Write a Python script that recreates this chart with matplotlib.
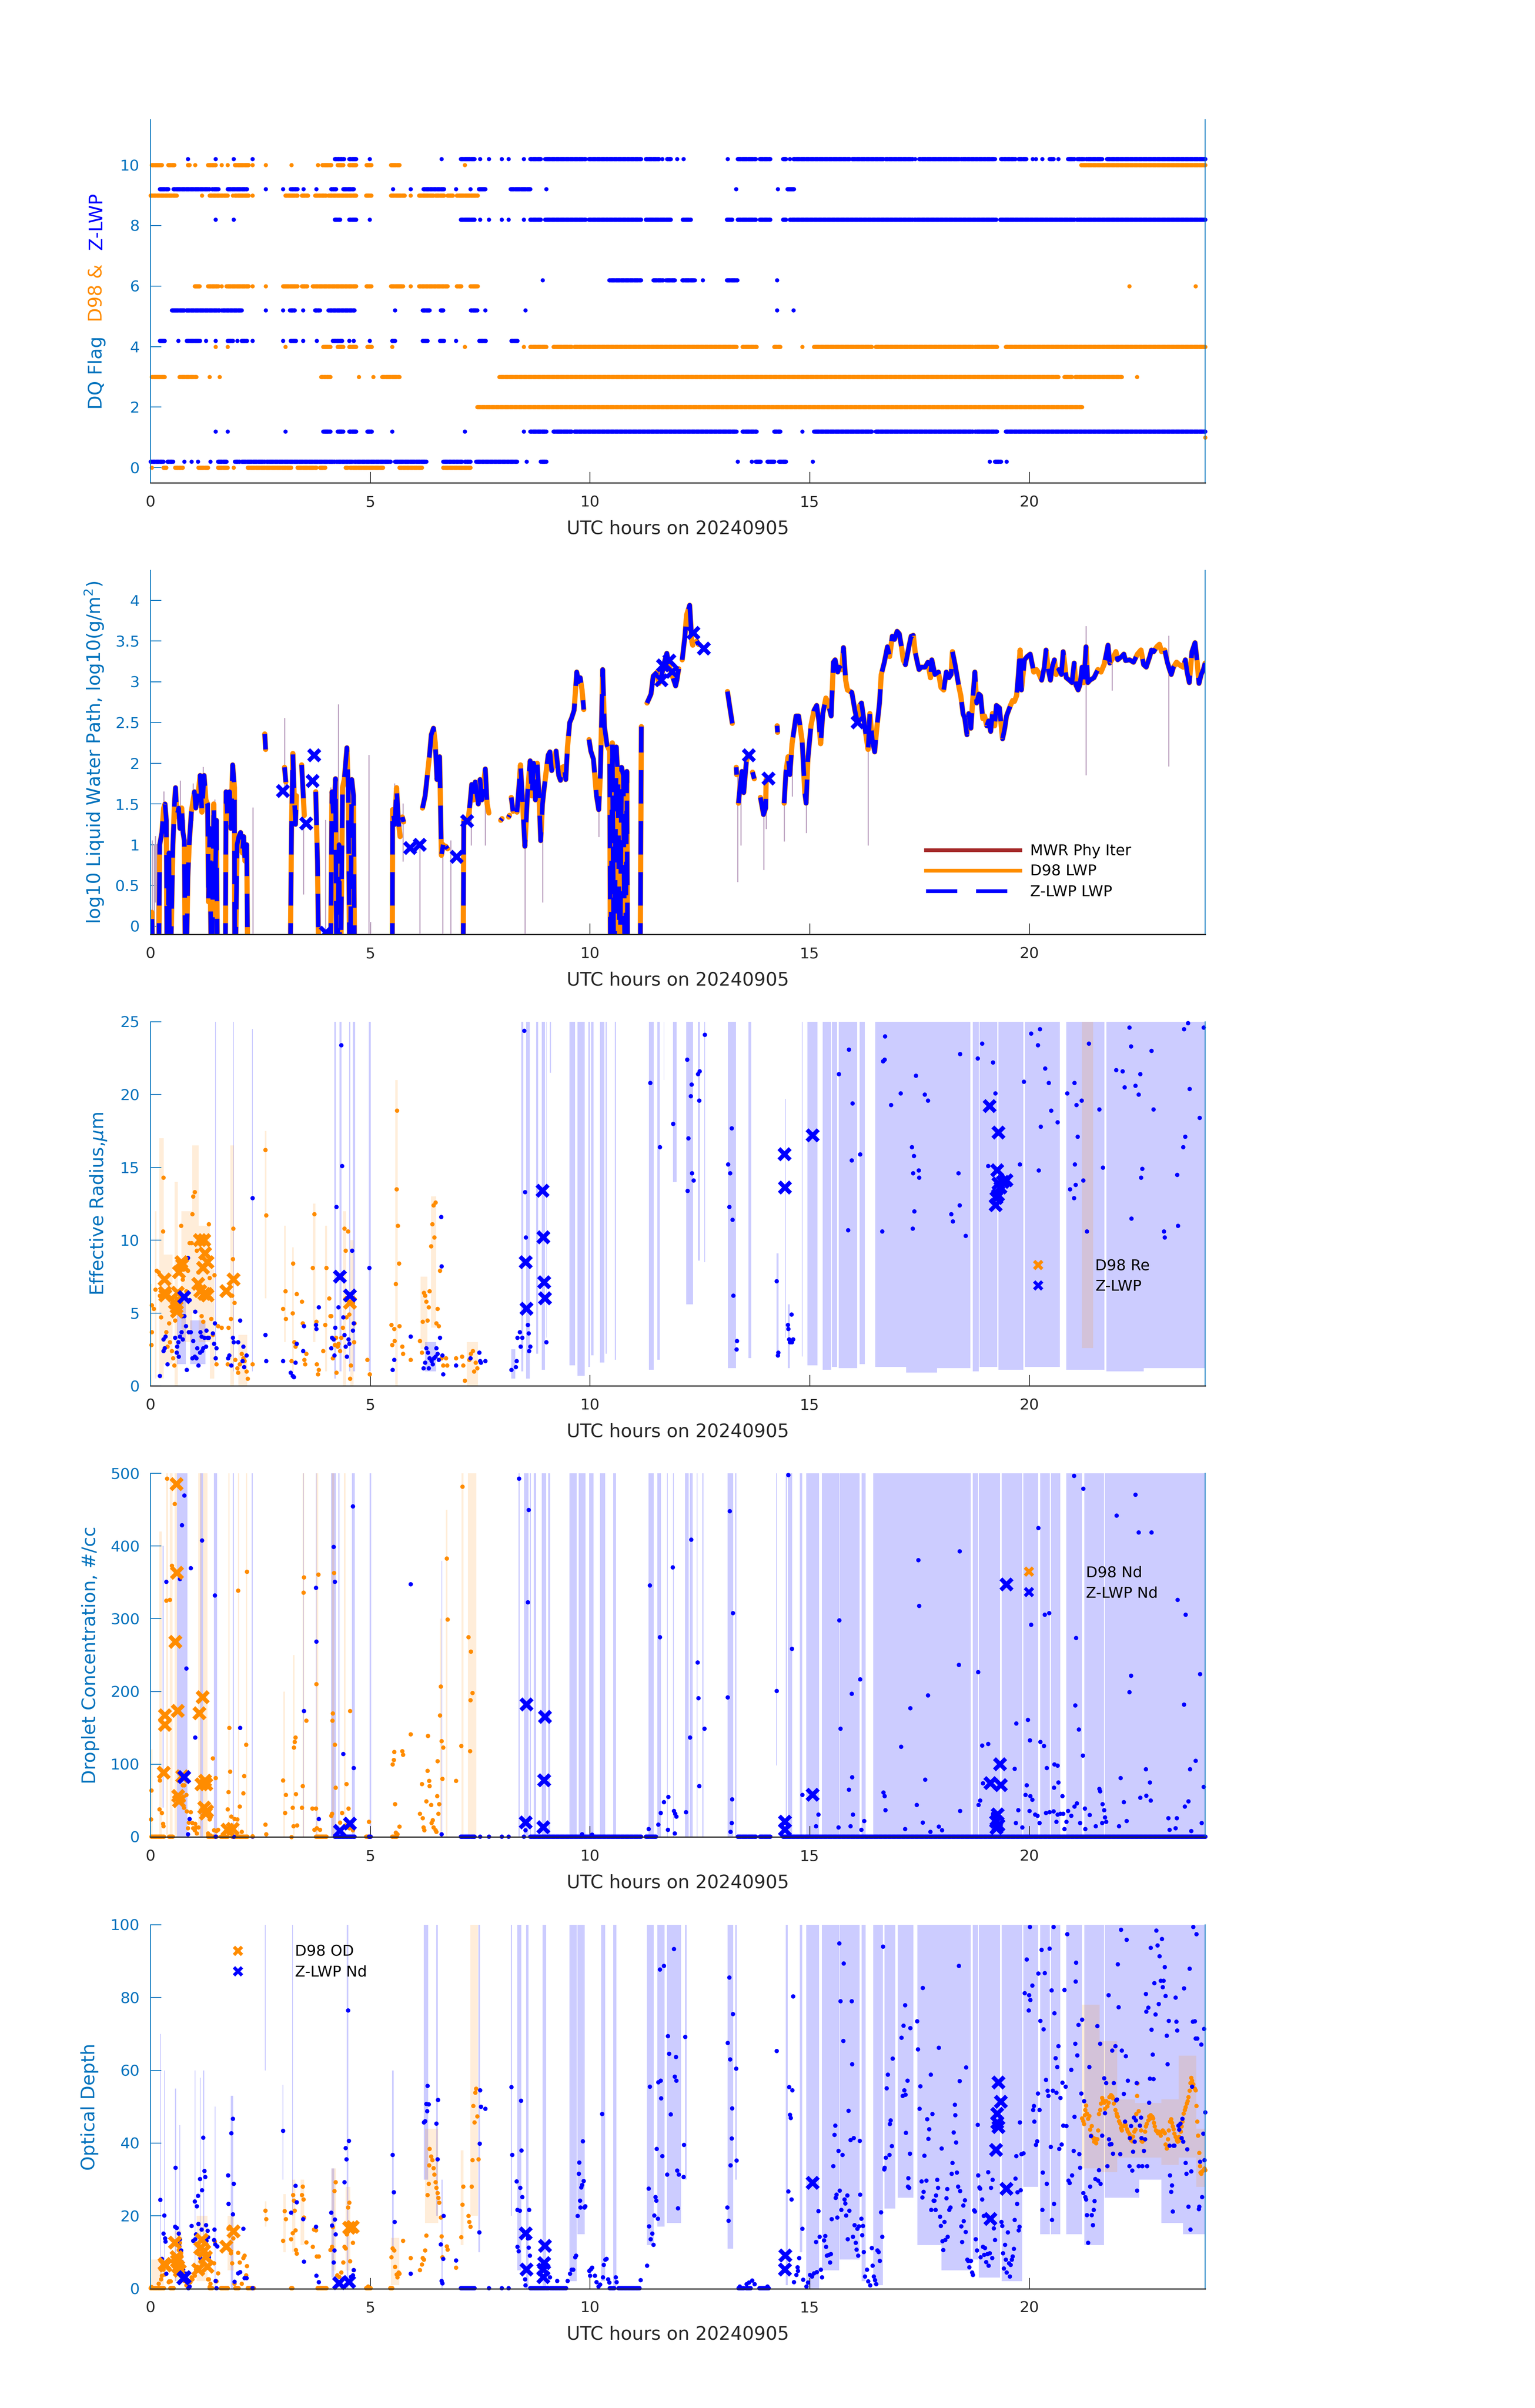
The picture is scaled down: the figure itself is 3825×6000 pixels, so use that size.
import numpy as np
import matplotlib
matplotlib.use("Agg")
import matplotlib.pyplot as plt
from matplotlib.lines import Line2D
from matplotlib.ticker import FuncFormatter

plt.rcParams['font.family'] = ['DejaVu Sans']
plt.rcParams['mathtext.fontset'] = 'dejavusans'

AX_BLUE = '#0072BD'
DARK = '#262626'
BLUE = '#0000FF'
ORANGE = '#FF8C00'
MWR_LEGEND = '#A52A2A'
MWR_TRACE = '#BBA0BF'
nan = np.nan

# --- Panel 1: DQ flags, runs of flagged samples (start hour, end hour) ---
zlwp_flag_10 = [(0.85, 0.85), (1.48, 1.48), (1.89, 1.89), (2.32, 2.32), (4.19, 4.4), (4.52, 4.68), (4.99, 4.99),
                (6.62, 6.62), (7.06, 7.37), (7.5, 7.5), (7.7, 7.7), (7.99, 7.99), (8.15, 8.15), (8.49, 8.49),
                (8.64, 8.88), (8.98, 9.9), (9.97, 11.16), (11.27, 11.57), (11.64, 11.64), (11.75, 11.84),
                (11.98, 11.98), (12.13, 12.13), (13.13, 13.13), (13.36, 13.77), (13.86, 14.1), (14.39, 14.46),
                (14.55, 14.55), (14.63, 15.91), (15.96, 16.68), (16.72, 17.34), (17.4, 17.4), (17.49, 18.4),
                (18.44, 19.21), (19.35, 19.68), (19.75, 19.93), (20.07, 20.07), (20.15, 20.15), (20.29, 20.29),
                (20.46, 20.55), (20.66, 20.66), (20.88, 21.02), (21.09, 21.24), (21.29, 21.65), (21.76, 24.0)]
zlwp_flag_9 = [(0.21, 0.4), (0.52, 1.34), (1.4, 1.54), (1.75, 2.19), (2.62, 2.62), (3.01, 3.01), (3.19, 3.34),
               (3.48, 3.48), (3.77, 3.77), (4.11, 4.22), (4.38, 4.62), (5.52, 5.52), (5.92, 5.92), (6.21, 6.68),
               (6.95, 6.95), (7.28, 7.28), (7.47, 7.62), (8.19, 8.64), (9.0, 9.0), (13.32, 13.32),
               (14.27, 14.27), (14.49, 14.64)]
zlwp_flag_8 = [(1.48, 1.48), (1.89, 1.89), (4.19, 4.31), (4.52, 4.68), (4.99, 4.99), (7.06, 7.37), (7.5, 7.5),
               (7.7, 7.7), (7.99, 7.99), (8.15, 8.15), (8.49, 8.49), (8.64, 8.88), (8.98, 9.9), (9.97, 11.16),
               (11.27, 11.84), (12.11, 12.29), (13.11, 13.23), (13.36, 13.77), (13.86, 14.1), (14.39, 14.46),
               (14.55, 17.34), (17.38, 18.4), (18.42, 19.24), (19.33, 21.02), (21.08, 24.0)]
zlwp_flag_6 = [(8.92, 8.92), (10.44, 11.16), (11.44, 11.66), (11.73, 11.93), (12.1, 12.38), (12.57, 12.57),
               (13.11, 13.35), (14.26, 14.26)]
zlwp_flag_5 = [(0.48, 0.77), (0.81, 1.57), (1.62, 2.07), (2.62, 2.62), (3.01, 3.01), (3.17, 3.28), (3.47, 3.47),
               (3.74, 3.85), (4.05, 4.64), (5.56, 5.56), (6.19, 6.35), (6.6, 6.66), (7.29, 7.43), (7.62, 7.62),
               (8.53, 8.53), (14.26, 14.26), (14.63, 14.63)]
zlwp_flag_4 = [(0.21, 0.32), (0.63, 0.63), (0.82, 1.12), (1.26, 1.26), (1.48, 1.48), (1.75, 1.87), (1.97, 1.97),
               (2.07, 2.19), (2.32, 2.32), (3.01, 3.01), (3.19, 3.31), (3.47, 3.47), (3.78, 3.78), (4.15, 4.36),
               (4.52, 4.52), (4.62, 4.62), (4.99, 4.99), (5.5, 5.56), (6.19, 6.3), (6.58, 6.68), (6.95, 6.95),
               (7.48, 7.63), (8.21, 8.35)]
zlwp_flag_1 = [(1.48, 1.48), (1.75, 1.75), (3.07, 3.07), (3.93, 4.09), (4.26, 4.38), (4.52, 4.68), (4.93, 5.03),
               (5.5, 5.5), (7.15, 7.15), (8.49, 8.49), (8.64, 9.0), (9.17, 9.58), (9.64, 13.33), (13.47, 13.79),
               (14.19, 14.33), (14.83, 14.83), (15.1, 16.41), (16.5, 18.71), (18.76, 19.26), (19.46, 24.0)]
zlwp_flag_0 = [(0.0, 0.29), (0.38, 0.51), (0.77, 0.77), (0.93, 0.93), (1.08, 1.08), (1.36, 1.36), (1.53, 1.73),
               (1.92, 2.03), (2.07, 2.6), (2.64, 4.19), (4.23, 4.6), (4.64, 5.46), (5.56, 6.27), (6.66, 7.09),
               (7.15, 7.28), (7.41, 8.34), (8.56, 8.56), (8.88, 9.0), (13.36, 13.36), (13.68, 13.68),
               (13.77, 13.88), (14.04, 14.19), (14.3, 14.46), (15.07, 15.07), (19.1, 19.1), (19.21, 19.35),
               (19.48, 19.48)]

d98_flag_10 = [(0.03, 0.26), (0.4, 0.54), (0.85, 0.89), (1.01, 1.01), (1.31, 1.48), (1.62, 1.62), (1.75, 1.75),
               (1.92, 2.23), (2.32, 2.32), (2.62, 2.62), (3.21, 3.21), (3.81, 3.81), (3.91, 4.11), (4.26, 4.38),
               (4.52, 4.68), (4.91, 5.02), (5.47, 5.66), (7.15, 7.15), (21.18, 24.0)]
d98_flag_9 = [(0.0, 0.59), (1.17, 1.17), (1.34, 1.75), (1.87, 1.87), (1.92, 2.23), (2.32, 2.32), (3.07, 3.34),
              (3.44, 3.58), (3.74, 3.99), (4.05, 4.68), (4.9, 5.02), (5.47, 5.78), (5.92, 5.92), (6.11, 6.44),
              (6.48, 6.68), (6.76, 6.88), (6.97, 7.44)]
d98_flag_6 = [(1.0, 1.11), (1.31, 1.54), (1.62, 1.62), (1.73, 2.23), (2.32, 2.32), (2.62, 2.62), (3.01, 3.34),
              (3.44, 3.56), (3.69, 4.68), (4.91, 5.02), (5.47, 5.74), (5.92, 5.92), (6.11, 6.76), (6.97, 7.07),
              (7.28, 7.44), (22.27, 22.27), (23.78, 23.78)]
d98_flag_4 = [(1.48, 1.48), (1.75, 1.75), (3.07, 3.07), (3.93, 4.09), (4.26, 4.38), (4.52, 4.68), (4.93, 5.03),
              (5.5, 5.5), (7.15, 7.15), (8.49, 8.49), (8.64, 9.0), (9.17, 9.58), (9.64, 13.33), (13.47, 13.79),
              (14.19, 14.33), (14.83, 14.83), (15.1, 16.41), (16.5, 18.71), (18.76, 19.26), (19.46, 24.0)]
d98_flag_3 = [(0.03, 0.32), (0.66, 1.04), (1.34, 1.34), (1.57, 1.57), (3.88, 4.09), (4.74, 4.74), (5.07, 5.07),
              (5.27, 5.66), (7.94, 20.66), (20.79, 20.97), (21.04, 22.1), (22.45, 22.45)]
d98_flag_2 = [(7.43, 21.2)]
d98_flag_1 = [(24.0, 24.0)]
d98_flag_0 = [(0.03, 0.03), (0.29, 0.36), (0.56, 0.73), (1.09, 1.31), (1.53, 1.75), (1.89, 1.89), (2.21, 3.2),
              (3.34, 3.77), (3.85, 3.97), (4.44, 4.48), (4.54, 5.29), (5.66, 6.17), (6.66, 7.28)]

# --- Panel 2: log10 LWP (hour, value); nan breaks the line, -1 = below axis ---
lwp_pts = [
    (0.00, -1), (0.03, 0.17), (0.07, -1), (nan, nan),
    (0.18, -1), (0.21, 1.0), (0.26, 1.15), (0.30, 1.45), (0.33, 1.5), (0.36, 1.3), (0.38, -1), (0.42, 0.9),
    (0.44, -1), (0.51, 1.0), (0.55, 1.55), (0.57, 1.7), (0.60, 1.35), (0.64, 1.45), (0.67, 1.2), (0.71, 1.45),
    (0.74, 1.15), (0.77, 1.05), (0.80, -1), (0.85, 0.6), (0.88, 1.0), (0.93, 1.4), (1.00, 1.65), (1.03, 1.45),
    (1.08, 1.6), (1.13, 1.85), (1.17, 1.4), (1.22, 1.85), (1.26, 1.55), (1.30, 1.5), (1.32, 0.3), (1.35, 1.2),
    (1.39, -1), (1.44, 1.5), (1.47, 0.4), (1.50, 1.3), (1.53, -1), (nan, nan),
    (1.70, -1), (1.72, 1.65), (1.76, 1.3), (1.80, 1.65), (1.83, 1.2), (1.87, 1.98), (1.91, 1.7), (1.92, -1),
    (1.97, 1.0), (2.01, 1.1), (2.05, 1.15), (2.09, 0.9), (2.12, 1.1), (2.15, 0.8), (2.19, 1.0), (2.22, -1),
    (nan, nan),
    (2.60, 2.36), (2.62, 2.17), (nan, nan),
    (3.05, 1.95), (3.08, 1.77), (nan, nan),
    (3.17, -1), (3.21, 1.2), (3.24, 2.12), (3.27, 1.6), (3.30, 1.25), (3.32, 1.6), (nan, nan),
    (3.44, 1.98), (3.50, 1.36), (nan, nan),
    (3.76, 1.65), (3.80, 0.8), (3.84, -1), (nan, nan),
    (4.09, -1), (4.13, 1.65), (4.17, 1.3), (4.21, 1.81), (4.24, -1), (4.29, 1.0), (4.32, -1), (4.37, 1.7),
    (4.41, 1.8), (4.47, 2.19), (4.50, 1.7), (4.54, -1), (4.58, 1.8), (4.62, 1.6), (4.65, -1), (nan, nan),
    (5.50, -1), (5.51, 1.43), (5.56, 1.25), (5.60, 1.7), (5.64, 1.3), (5.68, 1.1), (nan, nan),
    (5.73, 1.34), (5.76, 1.28), (nan, nan),
    (6.19, 1.45), (6.25, 1.6), (6.30, 1.85), (6.35, 2.1), (6.39, 2.35), (6.44, 2.43), (6.48, 2.25),
    (6.52, 1.8), (6.58, 2.08), (6.62, 0.87), (6.66, 1.0), (nan, nan),
    (6.72, 0.98), (6.76, 0.95), (nan, nan),
    (7.11, -1), (7.13, 1.3), (7.23, 1.3), (7.27, 1.5), (7.31, 1.74), (7.35, 1.55), (7.39, 1.77), (7.46, 1.5),
    (7.50, 1.8), (7.54, 1.55), (7.58, 1.75), (7.62, 1.93), (7.66, 1.5), (7.70, 1.39), (nan, nan),
    (7.97, 1.3), (8.00, 1.32), (nan, nan),
    (8.15, 1.34), (8.17, 1.36), (nan, nan),
    (8.21, 1.58), (8.25, 1.41), (nan, nan),
    (8.34, 1.4), (8.39, 1.75), (8.42, 1.98), (8.47, 1.5), (8.52, 0.98), (8.58, 1.63), (8.64, 2.03),
    (8.68, 1.6), (8.72, 2.0), (8.76, 1.55), (8.80, 2.0), (8.84, 1.63), (8.88, 1.05), (8.92, 1.5), (8.96, 1.7),
    (9.05, 2.1), (9.09, 2.14), (9.13, 1.91), (9.17, 1.98), (9.23, 2.15), (9.29, 1.85), (9.33, 1.79),
    (9.37, 1.95), (9.41, 1.96), (9.45, 1.8), (9.49, 2.2), (9.54, 2.5), (9.58, 2.55), (9.64, 2.65), (9.70, 3.12),
    (9.74, 3.0), (9.78, 3.05), (9.82, 2.9), (9.86, 2.66), (nan, nan),
    (9.98, 2.29), (10.02, 2.15), (10.08, 2.05), (10.15, 1.6), (10.20, 1.43), (10.24, 1.9), (10.29, 3.15),
    (10.33, 2.45), (10.39, 2.22), (10.45, 2.15), (10.47, -1), (10.51, 2.25), (10.55, -1), (10.60, 2.2),
    (10.64, 1.8), (10.68, -1), (10.72, 1.95), (10.76, 1.85), (10.80, -1), (10.84, 1.9), (10.86, -1), (nan, nan),
    (11.14, -1), (11.17, 2.45), (nan, nan),
    (11.30, 2.74), (11.35, 2.80), (11.39, 2.85), (11.44, 3.07), (11.53, 3.12), (11.57, 2.98), (11.62, 3.05),
    (11.70, 3.25), (11.75, 3.35), (11.80, 3.2), (11.89, 3.05), (11.95, 2.95), (11.98, 3.02), (12.02, 3.16),
    (nan, nan),
    (12.10, 3.27), (12.16, 3.55), (12.20, 3.82), (12.27, 3.94), (12.32, 3.49), (12.34, 3.45), (nan, nan),
    (12.43, 3.5), (12.47, 3.46), (nan, nan),
    (13.13, 2.88), (13.18, 2.7), (13.24, 2.49), (nan, nan),
    (13.33, 1.95), (13.34, 1.86), (nan, nan),
    (13.38, 1.51), (13.42, 1.73), (13.46, 1.9), (13.50, 1.64), (13.56, 2.02), (13.60, 2.1), (nan, nan),
    (13.70, 1.89), (13.74, 1.81), (nan, nan),
    (13.88, 1.58), (13.95, 1.37), (14.00, 1.45), (14.01, 1.8), (nan, nan),
    (14.26, 2.46), (14.27, 2.38), (nan, nan),
    (14.42, 1.51), (14.46, 1.89), (14.51, 2.08), (14.55, 1.86), (14.60, 2.24), (14.69, 2.58), (14.75, 2.58),
    (14.83, 2.27), (14.89, 1.64), (14.92, 1.51), (14.96, 2.05), (15.03, 2.46), (15.10, 2.65), (15.16, 2.71),
    (15.21, 2.52), (15.25, 2.24), (15.30, 2.61), (15.37, 2.8), (15.41, 2.76), (15.49, 2.58), (15.54, 3.24),
    (15.58, 3.27), (15.64, 3.12), (15.68, 3.18), (15.73, 3.15), (15.77, 3.42), (15.82, 3.02), (15.86, 2.9),
    (15.96, 2.87), (16.03, 2.65), (16.09, 2.5), (16.14, 2.71), (16.18, 2.74), (16.23, 2.55), (16.27, 2.39),
    (16.33, 2.17), (16.37, 2.61), (16.43, 2.27), (16.48, 2.14), (16.52, 2.39), (16.59, 2.74), (16.63, 3.09),
    (16.70, 3.24), (16.77, 3.43), (16.82, 3.31), (16.88, 3.56), (16.93, 3.52), (16.99, 3.62), (17.04, 3.59),
    (17.09, 3.43), (17.13, 3.27), (17.18, 3.21), (17.27, 3.46), (17.31, 3.56), (17.36, 3.57), (17.40, 3.37),
    (17.45, 3.24), (17.49, 3.15), (17.54, 3.18), (17.63, 3.18), (17.69, 3.24), (17.75, 3.05), (17.78, 3.27),
    (17.85, 3.09), (17.93, 3.12), (17.99, 2.93), (18.05, 2.9), (18.11, 3.12), (18.17, 3.05), (18.22, 3.09),
    (18.25, 3.37), (18.31, 3.21), (18.40, 2.93), (18.44, 2.83), (18.49, 2.61), (18.53, 2.55), (18.58, 2.35),
    (18.62, 2.61), (18.67, 2.43), (18.71, 2.77), (18.76, 3.12), (18.80, 2.74), (18.85, 2.85), (18.89, 2.83),
    (18.94, 2.55), (18.98, 2.58), (19.03, 2.46), (19.07, 2.52), (19.12, 2.39), (19.16, 2.61), (19.21, 2.46),
    (19.25, 2.71), (19.32, 2.68), (19.39, 2.3), (19.44, 2.43), (19.48, 2.58), (19.57, 2.71), (19.62, 2.77),
    (19.66, 2.76), (19.71, 2.83), (19.75, 3.09), (19.79, 3.39), (19.82, 2.9), (19.89, 3.27), (19.95, 3.31),
    (20.02, 3.34), (20.10, 3.12), (20.16, 3.15), (20.20, 3.12), (20.28, 3.02), (20.34, 3.18), (20.38, 3.39),
    (20.43, 3.15), (20.48, 3.02), (20.52, 3.18), (20.57, 3.27), (20.61, 3.09), (20.67, 3.15), (20.73, 3.09),
    (20.77, 3.37), (20.84, 3.05), (20.91, 3.02), (20.97, 2.99), (21.02, 3.23), (21.06, 2.96), (21.11, 2.9),
    (21.15, 2.96), (21.20, 3.18), (21.24, 2.99), (21.29, 3.43), (21.33, 2.99), (21.38, 3.02), (21.47, 3.05),
    (21.56, 3.15), (21.63, 3.12), (21.70, 3.21), (21.74, 3.31), (21.79, 3.45), (21.83, 3.23), (21.92, 3.31),
    (21.97, 3.37), (22.01, 3.27), (22.10, 3.31), (22.15, 3.34), (22.19, 3.26), (22.28, 3.27), (22.37, 3.24),
    (22.46, 3.34), (22.54, 3.39), (22.60, 3.21), (22.66, 3.18), (22.74, 3.31), (22.78, 3.39), (22.83, 3.37),
    (22.90, 3.43), (22.96, 3.46), (23.01, 3.37), (23.08, 3.39), (23.14, 3.24), (23.19, 3.15), (23.23, 3.09),
    (23.28, 3.18), (23.35, 3.24), (23.41, 3.21), (23.50, 3.18), (23.55, 3.27), (23.59, 3.12), (23.64, 2.99),
    (23.70, 3.37), (23.77, 3.48), (23.82, 3.24), (23.86, 2.98), (23.91, 3.09), (23.96, 3.15), (24.00, 3.23),
]
# isolated Z-LWP retrievals drawn as crosses
lwp_z_x = [(3.01, 1.66), (3.54, 1.26), (3.69, 1.78), (3.73, 2.1), (3.99, -0.08), (5.91, 0.96), (6.13, 1.0),
           (6.97, 0.85), (7.21, 1.29), (11.63, 3.02), (11.66, 3.2), (11.81, 3.26), (11.87, 3.12), (12.36, 3.6),
           (12.59, 3.41), (13.62, 2.1), (14.06, 1.81), (16.09, 2.5)]
# MWR physical iteration excursions (hour, low, high)
mwr_spikes = [(0.04, -0.2, 1.05), (0.08, -0.2, 1.0), (0.11, 0.3, 1.1), (0.14, -0.2, 1.0), (0.17, 0.5, 1.05),
              (0.30, 1.3, 1.65), (0.50, 0.0, 1.0), (0.68, 1.3, 1.78), (0.78, -0.2, 1.3), (0.97, 1.3, 1.75),
              (1.20, 1.5, 1.95), (1.32, -0.2, 1.5), (1.46, 0.3, 1.55), (2.33, -0.2, 1.45), (3.05, 1.7, 2.55),
              (3.48, 0.4, 1.98), (3.98, -0.2, 1.3), (4.10, 0.0, 1.7), (4.27, 1.0, 2.72), (4.97, -0.2, 2.1),
              (5.00, -0.2, 0.05), (5.55, 1.4, 1.75), (5.74, 0.8, 1.5), (6.13, -0.2, 1.0), (6.65, -0.2, 1.0),
              (6.83, -0.2, 1.05), (7.30, 1.0, 1.55), (7.62, 1.0, 1.9), (8.52, -0.2, 1.0), (8.92, 0.3, 1.2),
              (10.20, 1.1, 1.5), (13.36, 0.55, 1.9), (13.43, 1.0, 1.7), (13.95, 0.7, 1.5), (14.01, 1.2, 1.5),
              (14.42, 1.05, 1.5), (14.60, 1.6, 2.2), (14.92, 1.15, 1.5), (16.33, 1.0, 2.2), (21.29, 1.86, 3.68),
              (21.88, 2.9, 3.3), (23.17, 1.97, 3.56)]

# --- Panel 3: effective radius (um) ---
re_d98_pts = [
    (0.02, 2.8), (0.03, 3.7), (0.03, 5.55), (0.07, 5.29), (0.11, 6.6), (0.14, 7.9), (0.18, 7.8), (0.21, 6.2),
    (0.24, 4.7), (0.28, 10.6), (0.29, 14.3), (0.36, 3.7), (0.38, 2.7), (0.42, 4.3), (0.44, 3.0), (0.48, 2.4),
    (0.51, 1.9), (0.54, 1.4), (0.56, 4.5), (0.59, 6.0), (0.60, 5.1), (0.69, 11.0), (0.73, 7.3), (0.75, 8.0),
    (0.81, 6.5), (0.85, 7.9), (0.89, 9.8), (0.93, 9.8), (0.95, 11.8), (0.97, 13.0), (1.00, 13.3), (1.05, 9.3),
    (1.09, 7.8), (1.16, 4.8), (1.20, 4.4), (1.32, 11.1), (1.34, 7.4), (1.38, 4.6), (1.42, 3.5), (1.45, 7.6),
    (1.48, 1.9), (1.50, 1.5), (1.53, 4.1), (1.62, 4.0), (1.75, 1.5), (1.77, 4.0), (1.83, 4.6), (1.85, 6.2),
    (1.87, 8.7), (1.88, 10.8), (1.91, 5.7), (1.93, 1.8), (1.97, 1.2), (1.99, 0.9), (2.03, 1.5), (2.07, 2.2),
    (2.11, 1.9), (2.14, 1.7), (2.18, 1.0), (2.21, 0.5), (2.32, 1.5), (2.61, 16.2), (2.63, 11.7), (3.01, 5.3),
    (3.07, 6.5), (3.08, 4.6), (3.21, 1.7), (3.23, 5.0), (3.24, 8.4), (3.27, 3.0), (3.30, 2.7), (3.32, 6.3),
    (3.44, 5.8), (3.46, 4.3), (3.50, 1.8), (3.52, 1.5), (3.54, 2.2), (3.69, 8.1), (3.73, 11.8), (3.77, 4.4),
    (3.78, 1.5), (3.81, 0.8), (3.83, 1.1), (3.93, 2.4), (3.97, 4.2), (4.00, 8.1), (4.06, 6.0), (4.09, 4.8),
    (4.11, 4.8), (4.15, 1.9), (4.19, 2.8), (4.22, 3.3), (4.23, 0.9), (4.26, 2.7), (4.27, 2.9), (4.31, 2.4),
    (4.34, 3.3), (4.37, 4.0), (4.41, 10.8), (4.44, 9.3), (4.46, 4.7), (4.49, 10.6), (4.52, 4.9), (4.54, 0.5),
    (4.56, 1.4), (4.60, 5.7), (4.63, 3.0), (4.64, 4.3), (4.93, 1.8), (4.99, 0.8), (5.48, 4.2), (5.50, 2.8),
    (5.54, 3.9), (5.55, 3.1), (5.58, 7.0), (5.60, 13.5), (5.61, 18.9), (5.63, 11.0), (5.65, 8.4), (5.66, 4.1),
    (5.73, 2.7), (5.74, 2.2), (5.92, 1.8), (6.13, 3.1), (6.17, 2.3), (6.19, 4.4), (6.22, 6.4), (6.25, 6.2),
    (6.27, 5.8), (6.30, 4.5), (6.33, 5.4), (6.35, 6.5), (6.38, 9.6), (6.41, 11.1), (6.44, 12.4), (6.46, 10.2),
    (6.48, 12.6), (6.50, 4.3), (6.53, 5.3), (6.56, 4.1), (6.58, 7.9), (6.62, 1.9), (6.66, 1.4), (6.72, 1.9),
    (6.75, 1.4), (6.95, 1.9), (7.09, 2.0), (7.11, 1.4), (7.15, 0.35), (7.25, 1.8), (7.29, 2.2), (7.33, 2.4),
    (7.36, 1.0), (7.40, 1.6), (7.43, 1.2),
]
re_d98_x = [(0.32, 7.3), (0.33, 6.4), (0.34, 6.2), (0.56, 5.7), (0.59, 5.4), (0.60, 5.1), (0.62, 6.4),
            (0.65, 7.8), (0.70, 8.5), (0.72, 8.3), (1.09, 7.0), (1.12, 10.0), (1.13, 6.5), (1.20, 8.1),
            (1.22, 10.0), (1.22, 6.3), (1.24, 9.1), (1.27, 6.3), (1.30, 8.5), (1.30, 6.2), (1.73, 6.5),
            (1.89, 7.3), (4.54, 5.7)]
re_z_pts = [
    (0.21, 0.7), (0.29, 2.4), (0.32, 2.6), (0.34, 3.4), (0.29, 3.2), (0.38, 1.5), (0.56, 3.3), (0.59, 2.3),
    (0.60, 2.7), (0.63, 3.0), (0.64, 2.0), (0.67, 3.4), (0.70, 3.7), (0.72, 4.8), (0.73, 3.2), (0.77, 4.8),
    (0.80, 4.1), (0.82, 1.1), (0.85, 8.8), (0.87, 3.7), (0.89, 5.9), (0.91, 3.7), (0.95, 1.9), (0.97, 3.1),
    (1.00, 2.0), (1.01, 5.1), (1.04, 1.9), (1.06, 2.6), (1.09, 1.4), (1.12, 2.3), (1.13, 3.7), (1.16, 3.4),
    (1.17, 2.4), (1.20, 2.6), (1.22, 3.3), (1.26, 2.7), (1.27, 3.8), (1.30, 3.3), (1.32, 3.3), (1.42, 3.6),
    (1.44, 2.9), (1.46, 4.3), (1.48, 1.9), (1.50, 2.6), (1.76, 1.9), (1.79, 2.1), (1.84, 1.4), (1.87, 3.3),
    (1.89, 3.0), (1.99, 3.0), (2.04, 4.5), (2.09, 1.7), (2.11, 2.7), (2.13, 1.3), (2.18, 2.1), (2.32, 12.9),
    (2.61, 3.5), (2.63, 1.7), (3.01, 1.7), (3.19, 0.9), (3.23, 0.7), (3.26, 0.6), (3.30, 1.6), (3.32, 2.9),
    (3.47, 2.4), (3.49, 4.1), (3.76, 4.2), (3.77, 3.9), (3.83, 5.4), (4.11, 2.6), (4.13, 3.3), (4.16, 3.2),
    (4.18, 2.1), (4.20, 4.0), (4.23, 12.3), (4.27, 5.4), (4.34, 23.4), (4.36, 15.1), (4.38, 4.7), (4.41, 3.5),
    (4.44, 2.7), (4.47, 2.0), (4.50, 3.2), (4.52, 2.9), (4.58, 9.3), (4.60, 3.8), (4.62, 4.3), (4.98, 8.1),
    (5.51, 1.1), (5.54, 1.8), (5.92, 3.4), (6.21, 1.2), (6.25, 1.6), (6.27, 2.6), (6.31, 2.3), (6.33, 1.2),
    (6.35, 1.9), (6.39, 1.7), (6.42, 1.5), (6.45, 1.9), (6.48, 2.0), (6.50, 2.6), (6.53, 2.2), (6.56, 1.8),
    (6.58, 3.3), (6.61, 11.6), (6.62, 8.2), (6.64, 2.1), (6.66, 0.8), (6.95, 1.4), (7.28, 1.9), (7.48, 2.3),
    (7.50, 1.7), (7.52, 1.6), (7.62, 1.7), (8.21, 1.1), (8.31, 1.3), (8.33, 1.7), (8.35, 3.3), (8.40, 3.7),
    (8.42, 2.7), (8.46, 3.3), (8.50, 24.4), (8.52, 13.3), (8.54, 10.2), (8.58, 4.2), (8.60, 3.6), (8.61, 2.4),
    (8.64, 2.7), (9.00, 3.0),
    (11.37, 20.8), (11.59, 16.4), (11.89, 18.0), (12.21, 22.4), (12.24, 17.0), (12.22, 13.4), (12.29, 19.9),
    (12.31, 20.7), (12.32, 14.6), (12.36, 14.1), (12.46, 21.4), (12.49, 21.6), (12.48, 19.6), (12.61, 24.1),
    (13.14, 15.2), (13.19, 14.6), (13.22, 17.7), (13.17, 12.3), (13.24, 11.4), (13.26, 6.2), (13.34, 3.1),
    (13.33, 2.5), (14.25, 7.2), (14.28, 2.3), (14.27, 2.1), (14.50, 4.2), (14.51, 3.9), (14.58, 4.9),
    (14.53, 3.2), (14.55, 3.0), (14.59, 3.0), (14.62, 3.2),
    (15.66, 21.4), (15.89, 23.1), (15.87, 10.7), (15.95, 15.5), (15.97, 19.4), (16.15, 15.9), (16.65, 10.6),
    (16.67, 22.3), (16.70, 22.4), (16.71, 24.0), (16.85, 19.3), (17.07, 20.1), (17.32, 16.4), (17.37, 15.8),
    (17.35, 14.6), (17.48, 14.8), (17.49, 14.3), (17.42, 21.3), (17.62, 20.0), (17.69, 19.6), (17.38, 12.0),
    (17.34, 10.8), (18.22, 11.8), (18.26, 11.3), (18.38, 14.6), (18.41, 12.4), (18.42, 22.8), (18.55, 10.3),
    (18.82, 22.5), (18.92, 23.5), (19.06, 15.1), (19.17, 22.2), (19.22, 20.1), (19.78, 15.2), (19.87, 20.9),
    (20.04, 24.2), (20.19, 23.4), (20.21, 14.8), (20.24, 24.5), (20.26, 17.8), (20.36, 21.8), (20.44, 20.8),
    (20.49, 18.9), (20.64, 18.1), (20.86, 20.1), (20.92, 13.5), (21.01, 12.9), (21.02, 20.8), (21.03, 15.2),
    (21.05, 13.8), (21.07, 19.3), (21.10, 17.1), (21.19, 19.6), (21.22, 14.1), (21.31, 10.6), (21.35, 23.5),
    (21.59, 19.0), (21.67, 15.0), (21.97, 21.7), (22.12, 21.6), (22.16, 20.5), (22.27, 24.6), (22.31, 23.3),
    (22.32, 11.5), (22.41, 20.6), (22.48, 20.0), (22.52, 21.4), (22.54, 14.3), (22.57, 14.9), (22.78, 23.0),
    (22.82, 19.0), (23.06, 10.6), (23.08, 10.2), (23.36, 14.5), (23.38, 11.0), (23.50, 16.4), (23.52, 24.5),
    (23.54, 17.1), (23.61, 24.9), (23.64, 20.4), (23.87, 18.4), (23.96, 24.6),
]
re_z_x = [(0.77, 6.1), (4.31, 7.5), (4.54, 6.2), (8.54, 8.5), (8.56, 5.3), (8.92, 13.4), (8.94, 10.2),
          (8.96, 7.1), (8.98, 6.0), (14.43, 15.9), (14.44, 13.6), (15.07, 17.2), (19.10, 19.2), (19.30, 17.4),
          (19.27, 14.8), (19.30, 13.9), (19.48, 14.1), (19.40, 14.0), (19.34, 13.6), (19.29, 13.1),
          (19.25, 12.9), (19.23, 12.4)]
# uncertainty bands (start hour, end hour, low, high)
re_band_d98 = [(0.0, 0.04, 0.0, 7.0), (0.1, 0.14, 0.5, 12.0), (0.2, 0.3, 0.5, 17.0), (0.3, 0.5, 1.5, 9.0),
               (0.55, 0.62, 0.0, 14.0), (0.7, 0.95, 3.0, 12.0), (0.95, 1.1, 5.0, 16.5), (1.1, 1.35, 3.0, 11.0),
               (1.35, 1.45, 0.5, 8.0), (1.82, 1.9, 0.0, 16.5), (2.0, 2.2, 0.0, 3.5), (2.6, 2.64, 6.0, 17.5),
               (3.04, 3.08, 3.0, 11.0), (3.22, 3.26, 1.0, 9.5), (3.7, 3.75, 3.0, 12.5), (3.97, 4.02, 1.0, 11.0),
               (4.38, 4.45, 0.0, 12.0), (4.55, 4.62, 0.0, 10.0), (5.57, 5.63, 0.0, 21.0), (6.15, 6.3, 2.5, 7.5),
               (6.38, 6.5, 4.0, 13.0), (7.2, 7.45, 0.0, 3.0), (21.2, 21.45, 2.6, 25.0)]
re_band_z = [(0.6, 0.8, 1.5, 6.0), (0.9, 1.25, 1.5, 4.5), (1.47, 1.49, 1.5, 25), (1.88, 1.9, 1.0, 25),
             (2.31, 2.33, 1.0, 24.5), (4.18, 4.22, 0.5, 25), (4.3, 4.35, 1.0, 25), (4.52, 4.55, 1.0, 25),
             (4.6, 4.66, 1.0, 25), (4.97, 5.01, 1.0, 25), (6.25, 6.5, 1.0, 3.0), (8.21, 8.3, 0.5, 2.5),
             (8.44, 8.48, 1.0, 25), (8.55, 8.63, 0.5, 25), (8.78, 8.82, 2.2, 25), (8.9, 8.98, 1.1, 25),
             (9.0, 9.01, 3.3, 25), (9.09, 9.11, 21.5, 25), (9.53, 9.66, 1.4, 25), (9.72, 9.88, 0.7, 25),
             (9.96, 10.0, 1.3, 25), (10.03, 10.08, 2.1, 25), (10.23, 10.33, 1.6, 25), (10.36, 10.38, 2.2, 25),
             (10.57, 10.59, 1.8, 25), (11.34, 11.45, 1.1, 25), (11.53, 11.59, 1.8, 25), (11.68, 11.69, 21, 25),
             (11.89, 11.97, 14, 25), (12.19, 12.35, 5.6, 25), (12.46, 12.5, 8.6, 25), (12.6, 12.62, 8.5, 25),
             (13.14, 13.32, 1.2, 25), (13.61, 13.67, 1.9, 25), (14.25, 14.29, 2.3, 9.1), (14.44, 14.46, 3.3, 19.7),
             (14.5, 14.55, 1.2, 5.6), (14.82, 14.84, 2.0, 25), (14.95, 15.18, 1.4, 25), (15.3, 15.49, 1.1, 25),
             (15.51, 15.63, 1.3, 25), (15.66, 16.08, 1.2, 25), (16.14, 16.26, 1.5, 25), (16.49, 17.2, 1.3, 25),
             (17.2, 17.9, 0.9, 25), (17.9, 18.66, 1.2, 25), (18.71, 18.85, 1.0, 25), (18.87, 19.27, 1.3, 25),
             (19.3, 19.86, 1.1, 25), (19.9, 20.69, 1.3, 25), (20.84, 21.71, 1.1, 25), (21.75, 22.6, 1.0, 25),
             (22.6, 23.99, 1.2, 25)]

# --- Panel 4: droplet concentration (#/cc) ---
nd_d98_pts = [
    (0.37, 493), (0.36, 325), (0.44, 326), (0.48, 373), (0.55, 458), (0.02, 64), (0.01, 24), (0.21, 78),
    (0.20, 38), (0.26, 33), (0.28, 18), (0.29, 15), (0.69, 84), (0.73, 71), (0.75, 50), (0.76, 40), (0.77, 71),
    (0.81, 58), (0.82, 35), (0.85, 12), (0.87, 20), (0.91, 34), (0.95, 19), (0.97, 12), (1.00, 9), (1.01, 18),
    (1.03, 13), (1.05, 5), (1.09, 13), (1.31, 5), (1.34, 24), (1.36, 2), (1.42, 108), (1.44, 9), (1.48, 81),
    (1.50, 8), (1.53, 10), (1.75, 38), (1.77, 62), (1.79, 150), (1.81, 90), (1.84, 28), (1.91, 25), (1.97, 24),
    (1.99, 339), (2.03, 42), (2.07, 7), (2.11, 60), (2.13, 84), (2.17, 127), (2.19, 365), (2.32, 1), (2.61, 17),
    (2.63, 4), (3.01, 78), (3.06, 33), (3.08, 58), (3.21, 0), (3.23, 40), (3.25, 15), (3.26, 123), (3.28, 131),
    (3.30, 137), (3.31, 59), (3.33, 16), (3.44, 40), (3.46, 70), (3.48, 336), (3.49, 357), (3.54, 160),
    (3.68, 39), (3.73, 10), (3.76, 39), (3.77, 210), (3.78, 12), (3.82, 361), (3.85, 10), (4.11, 29),
    (4.13, 32), (4.14, 160), (4.15, 170), (4.17, 363), (4.19, 127), (4.21, 68), (4.31, 20), (4.36, 33),
    (4.44, 16), (4.46, 73), (4.50, 39), (4.52, 12), (4.54, 173), (4.60, 9), (4.97, 21), (5.51, 100),
    (5.53, 106), (5.54, 117), (5.56, 45), (5.58, 6), (5.62, 4), (5.66, 14), (5.73, 118), (5.74, 113),
    (5.92, 141), (6.13, 32), (6.17, 73), (6.19, 26), (6.21, 13), (6.23, 9), (6.27, 49), (6.30, 91), (6.31, 139),
    (6.34, 77), (6.35, 70), (6.38, 44), (6.39, 19), (6.42, 23), (6.44, 13), (6.48, 9), (6.50, 7), (6.52, 56),
    (6.53, 104), (6.55, 32), (6.57, 45), (6.58, 167), (6.60, 207), (6.62, 132), (6.64, 80), (6.66, 123),
    (6.74, 383), (6.76, 299), (6.95, 77), (7.07, 125), (7.10, 482), (7.23, 275), (7.27, 118), (7.28, 188),
    (7.29, 255), (7.32, 198),
]
nd_d98_x = [(0.59, 485), (0.60, 363), (0.57, 268), (0.62, 173), (0.33, 167), (0.33, 154), (0.30, 88),
            (0.63, 56), (0.65, 49), (0.72, 83), (1.11, 170), (1.19, 192), (1.16, 72), (1.24, 77), (1.27, 72),
            (1.22, 40), (1.26, 32), (1.29, 35), (1.75, 10), (1.87, 11)]
nd_z_pts = [
    (0.36, 351), (0.67, 355), (0.71, 429), (0.77, 470), (0.81, 232), (0.91, 370), (0.89, 25), (0.85, 4),
    (1.01, 137), (1.17, 408), (1.46, 332), (2.04, 150), (3.49, 173), (3.76, 343), (3.77, 269), (3.83, 25),
    (4.16, 399), (4.19, 351), (4.38, 114), (4.60, 455), (4.62, 95), (5.92, 348), (6.62, 4), (8.38, 493),
    (8.60, 450), (8.58, 323), (8.53, 9), (9.82, 4), (10.05, 3),
    (11.36, 346), (11.59, 275), (11.88, 371), (12.30, 409), (12.45, 240), (12.47, 191), (12.27, 137),
    (12.60, 149), (12.48, 70), (13.18, 448), (13.25, 308), (13.13, 192), (13.23, 52), (13.22, 19), (13.20, 7),
    (11.33, 11), (11.55, 17), (11.61, 33), (11.68, 48), (11.78, 55), (11.91, 36), (11.94, 32), (11.96, 28),
    (12.18, 34), (11.77, 10), (11.93, 5), (14.25, 201), (14.51, 498), (14.59, 259), (14.83, 58), (15.14, 15),
    (15.20, 31), (15.67, 298), (15.70, 149), (15.95, 197), (15.96, 82), (15.89, 65), (15.98, 31), (16.15, 217),
    (16.17, 10), (16.24, 22), (15.93, 15), (15.65, 13), (16.68, 61), (16.70, 56), (16.72, 37), (17.08, 124),
    (17.17, 11), (17.29, 177), (17.47, 381), (17.49, 318), (17.43, 44), (17.57, 20), (17.63, 79), (17.69, 195),
    (17.74, 7), (17.94, 14), (18.01, 9), (18.39, 237), (18.41, 393), (18.42, 36), (18.83, 227), (18.88, 50),
    (18.84, 44), (18.92, 126), (19.06, 128), (18.94, 74), (19.17, 32), (19.66, 94), (19.70, 156), (19.69, 19),
    (19.74, 37), (19.96, 161), (20.01, 133), (19.94, 71), (19.91, 58), (20.02, 56), (20.06, 51), (20.00, 36),
    (19.84, 13), (20.04, 292), (20.20, 425), (20.25, 131), (20.33, 125), (20.35, 306), (20.45, 308),
    (20.39, 95), (20.13, 31), (20.18, 29), (20.23, 19), (20.37, 33), (20.46, 34), (20.55, 35), (20.61, 21),
    (20.57, 100), (20.64, 98), (20.66, 75), (20.56, 68), (20.64, 31), (20.70, 32), (20.75, 56), (20.77, 32),
    (20.79, 11), (20.84, 21), (20.88, 36), (20.95, 29), (21.02, 42), (21.08, 46), (21.01, 497), (21.06, 274),
    (21.04, 181), (21.12, 148), (21.21, 112), (21.22, 479), (21.15, 19), (21.26, 39), (21.27, 11), (21.37, 30),
    (21.51, 15), (21.59, 66), (21.61, 63), (21.66, 45), (21.70, 37), (21.72, 27), (21.74, 21), (21.65, 19),
    (21.98, 442), (22.07, 81), (22.15, 48), (22.21, 22), (22.27, 199), (22.31, 222), (22.41, 471),
    (22.48, 419), (22.78, 419), (22.65, 93), (22.66, 57), (22.74, 75), (22.52, 54), (22.76, 50), (22.04, 15),
    (23.16, 26), (23.35, 26), (23.19, 10), (23.32, 12), (23.37, 326), (23.55, 306), (23.52, 182), (23.65, 93),
    (23.78, 105), (23.53, 42), (23.62, 49), (23.88, 224), (23.96, 69), (23.92, 19), (23.68, 8),
]
nd_z_x = [(0.77, 82), (4.31, 8), (4.54, 18), (8.56, 182), (8.98, 165), (8.96, 78), (8.54, 20), (8.94, 13),
          (14.44, 21), (14.44, 10), (15.07, 58), (19.48, 347), (19.33, 100), (19.11, 74), (19.35, 71),
          (19.28, 31), (19.24, 21), (19.30, 16), (19.25, 12)]
# runs of near-zero retrievals (start hour, end hour)
nd_z_zero = [(1.48, 1.48), (1.89, 1.89), (2.32, 2.32), (4.19, 4.64), (4.97, 5.0), (7.06, 7.37), (7.5, 7.5),
             (7.7, 7.7), (7.99, 7.99), (8.15, 8.15), (8.49, 8.49), (8.64, 11.16), (11.27, 11.5), (13.36, 13.77),
             (13.86, 14.1), (14.39, 24.0)]
nd_d98_zero = [(0.02, 0.3), (0.42, 0.5), (1.31, 1.5), (1.6, 1.75), (1.85, 2.2), (3.76, 4.0), (4.9, 5.0),
               (5.5, 5.6), (21.2, 24.0)]
nd_band_d98 = [(0.0, 0.05, 0, 120), (0.2, 0.26, 0, 420), (0.36, 0.4, 0, 500), (0.44, 0.5, 0, 500),
               (0.55, 0.6, 0, 500), (1.09, 1.16, 0, 500), (1.2, 1.3, 0, 500), (1.77, 1.8, 0, 500),
               (1.99, 2.02, 0, 500), (2.17, 2.2, 0, 500), (3.02, 3.06, 0, 200), (3.24, 3.28, 0, 250),
               (3.46, 3.5, 0, 500), (3.77, 3.82, 0, 500), (4.13, 4.18, 0, 500), (4.4, 4.44, 0, 500),
               (6.58, 6.62, 0, 300), (6.72, 6.76, 0, 450), (7.08, 7.12, 0, 500), (7.22, 7.42, 0, 500)]
nd_band_z = [(0.27, 0.3, 40, 400), (0.6, 0.84, 0, 500), (1.13, 1.2, 0, 500), (1.44, 1.52, 0, 500),
             (1.87, 1.9, 0, 500), (2.3, 2.33, 0, 500), (3.47, 3.49, 0, 500), (3.76, 3.78, 0, 500),
             (4.11, 4.22, 0, 500), (4.27, 4.3, 0, 500), (4.58, 4.65, 0, 500), (4.99, 5.02, 0, 500),
             (6.62, 6.64, 0, 380), (8.37, 8.4, 0, 500), (8.5, 8.6, 0, 500), (8.63, 8.66, 0, 500),
             (8.72, 8.78, 0, 500), (8.9, 9.0, 0, 500), (9.05, 9.1, 0, 500), (9.53, 9.7, 0, 500),
             (9.74, 9.9, 0, 500), (9.98, 10.08, 0, 500), (10.23, 10.35, 0, 500), (10.53, 10.59, 0, 500),
             (11.33, 11.45, 0, 500), (11.53, 11.62, 0, 500), (11.75, 11.77, 0, 500), (11.89, 11.91, 0, 500),
             (12.16, 12.25, 0, 500), (12.27, 12.34, 0, 500), (12.43, 12.45, 0, 500), (12.56, 12.58, 0, 500),
             (13.13, 13.26, 0, 500), (13.31, 13.33, 0, 500), (14.24, 14.26, 98, 500), (14.46, 14.48, 0, 500),
             (14.5, 14.6, 0, 500), (14.78, 14.83, 0, 500), (14.92, 15.21, 0, 500), (15.28, 15.67, 0, 500),
             (15.68, 16.14, 0, 500), (16.18, 16.27, 0, 500), (16.45, 18.67, 0, 500), (18.71, 18.83, 0, 500),
             (18.85, 19.33, 0, 500), (19.37, 19.84, 0, 500), (19.86, 20.2, 0, 500), (20.25, 20.47, 0, 500),
             (20.49, 20.7, 0, 500), (20.84, 21.2, 0, 500), (21.25, 21.7, 0, 500), (21.72, 24.0, 0, 500)]

# --- Panel 5: optical depth ---
od_d98_pts = [
    (0.02, 0.5), (0.07, 0.2), (0.13, 0.2), (0.21, 0.2), (0.18, 1.4), (0.24, 2.6), (0.26, 3.6), (0.29, 5.3),
    (0.32, 3.9), (0.38, 7.7), (0.41, 1.8), (0.42, 2.0), (0.46, 2.0), (0.48, 0.2), (0.52, 0.2), (0.54, 6.0),
    (0.57, 12.2), (0.60, 7.2), (0.64, 10.7), (0.67, 12.6), (0.69, 9.1), (0.71, 6.8), (0.77, 2.2), (0.81, 1.0),
    (0.85, 0.4), (0.87, 2.2), (0.90, 1.8), (0.93, 3.1), (0.95, 2.6), (1.00, 3.6), (1.03, 5.3), (1.06, 6.0),
    (1.09, 9.5), (1.13, 7.4), (1.16, 6.4), (1.22, 7.0), (1.27, 8.5), (1.31, 2.6), (1.32, 2.6), (1.34, 0.5),
    (1.36, 1.4), (1.39, 0.2), (1.44, 7.0), (1.46, 13.0), (1.48, 2.2), (1.50, 2.0), (1.53, 4.3), (1.62, 0.2),
    (1.75, 0.2), (1.77, 16.5), (1.81, 16.9), (1.83, 9.8), (1.85, 7.0), (1.88, 13.8), (1.91, 1.4), (1.93, 0.2),
    (1.99, 9.9), (2.03, 7.2), (2.07, 1.4), (2.11, 8.5), (2.14, 9.1), (2.17, 3.7), (2.19, 6.2), (2.21, 0.2),
    (2.61, 21.5), (2.63, 19.2), (3.01, 13.2), (3.05, 21.4), (3.08, 19.2), (3.20, 13.6), (3.21, 0.2),
    (3.23, 15.3), (3.24, 25.8), (3.26, 24.2), (3.28, 21.5), (3.30, 16.1), (3.31, 10.7), (3.32, 9.7),
    (3.44, 25.8), (3.46, 28.1), (3.48, 24.5), (3.49, 19.6), (3.54, 12.8), (3.69, 11.5), (3.72, 16.3),
    (3.76, 16.1), (3.78, 8.9), (3.83, 8.9), (4.09, 10.7), (4.13, 11.5), (4.15, 16.9), (4.18, 26.9),
    (4.21, 29.3), (4.25, 3.7), (4.29, 3.3), (4.34, 4.5), (4.38, 7.2), (4.41, 11.5), (4.44, 11.1), (4.47, 14.9),
    (4.49, 22.4), (4.52, 23.7), (4.54, 7.6), (4.58, 16.9), (4.60, 12.6), (4.62, 5.1), (4.93, 0.2), (4.95, 0.6),
    (5.48, 8.7), (5.51, 11.1), (5.54, 10.5), (5.56, 6.0), (5.60, 3.9), (5.62, 3.1), (5.64, 4.5), (5.66, 4.1),
    (5.74, 13.2), (5.92, 8.4), (6.13, 5.1), (6.17, 6.7), (6.19, 8.4), (6.22, 8.0), (6.25, 10.5), (6.27, 14.6),
    (6.30, 25.8), (6.33, 28.9), (6.34, 33.9), (6.35, 38.4), (6.38, 36.4), (6.41, 35.4), (6.44, 33.1),
    (6.46, 31.4), (6.48, 29.3), (6.50, 27.7), (6.53, 26.3), (6.55, 25.0), (6.57, 23.7), (6.60, 19.6),
    (6.62, 14.4), (6.64, 8.7), (6.74, 11.6), (6.76, 10.8), (6.95, 5.8), (7.07, 14.2), (7.10, 23.1),
    (7.11, 28.1), (7.23, 20.0), (7.25, 18.4), (7.28, 17.0), (7.31, 28.1), (7.32, 35.4), (7.34, 50.3),
    (7.37, 45.7), (7.39, 53.9), (7.41, 55.0), (7.43, 47.4), (7.46, 35.6),
    (21.20, 46.8), (21.22, 46.1), (21.24, 45.3), (21.26, 47.7), (21.27, 49.2), (21.29, 50.4), (21.31, 48.2),
    (21.33, 46.7), (21.36, 47.5), (21.38, 43.7), (21.41, 42.1), (21.42, 44.7), (21.45, 41.4), (21.47, 40.4),
    (21.50, 41.2), (21.52, 40.0), (21.54, 41.1), (21.56, 43.5), (21.58, 48.1), (21.61, 49.2), (21.63, 50.9),
    (21.65, 52.5), (21.67, 51.8), (21.70, 51.1), (21.72, 49.5), (21.74, 51.6), (21.77, 50.1), (21.80, 51.1),
    (21.82, 52.7), (21.85, 53.2), (21.88, 52.9), (21.90, 52.3), (21.92, 50.9), (21.95, 49.2), (21.98, 48.2),
    (21.99, 47.5), (22.01, 47.3), (22.04, 46.1), (22.06, 45.4), (22.08, 44.2), (22.10, 43.5), (22.12, 44.6),
    (22.15, 44.7), (22.17, 45.3), (22.19, 44.9), (22.22, 43.9), (22.24, 43.2), (22.27, 42.5), (22.28, 41.4),
    (22.31, 40.9), (22.34, 40.5), (22.36, 41.9), (22.38, 43.2), (22.41, 43.7), (22.43, 48.1), (22.45, 53.0),
    (22.46, 56.4), (22.48, 48.8), (22.51, 44.9), (22.54, 43.5), (22.55, 40.7), (22.57, 40.4), (22.60, 40.9),
    (22.63, 43.2), (22.65, 44.6), (22.67, 45.3), (22.70, 46.3), (22.72, 47.4), (22.74, 46.7), (22.76, 47.7),
    (22.79, 47.3), (22.81, 46.8), (22.83, 45.6), (22.85, 44.6), (22.88, 43.5), (22.90, 43.2), (22.92, 42.8),
    (22.94, 43.2), (22.96, 42.8), (22.99, 42.1), (23.01, 43.2), (23.03, 43.5), (23.05, 43.2), (23.08, 42.8),
    (23.10, 39.7), (23.12, 38.6), (23.15, 41.1), (23.17, 43.5), (23.20, 46.0), (23.22, 46.6), (23.24, 45.6),
    (23.26, 44.6), (23.28, 43.9), (23.30, 42.6), (23.32, 41.8), (23.35, 40.9), (23.37, 40.4), (23.40, 40.7),
    (23.41, 41.8), (23.44, 43.2), (23.46, 44.6), (23.48, 46.0), (23.51, 48.2), (23.53, 49.2), (23.55, 49.9),
    (23.58, 50.9), (23.60, 51.6), (23.62, 52.7), (23.64, 54.4), (23.66, 56.5), (23.68, 58.0), (23.70, 57.2),
    (23.73, 56.2), (23.76, 55.0), (23.78, 54.6), (23.80, 50.2), (23.82, 46.0), (23.84, 42.1), (23.86, 37.4),
    (23.88, 33.7), (23.89, 31.9), (23.91, 31.6), (23.93, 32.3), (23.96, 32.6), (23.98, 33.0), (24.00, 32.6),
]
od_d98_x = [(0.32, 6.8), (0.34, 6.4), (0.56, 12.6), (0.59, 8.7), (0.60, 7.6), (0.63, 6.0), (0.67, 4.9),
            (1.09, 5.3), (1.13, 11.1), (1.17, 13.4), (1.22, 10.3), (1.26, 8.7), (1.30, 6.0), (1.73, 11.5),
            (1.89, 15.7), (4.52, 16.7), (4.60, 16.9)]
od_z_pts = [
    (0.22, 24.4), (0.26, 8.2), (0.29, 15.2), (0.31, 20.1), (0.33, 13.9), (0.34, 13.0), (0.36, 4.1), (0.38, 7.7),
    (0.57, 33.3), (0.56, 17.0), (0.59, 16.7), (0.60, 12.6), (0.62, 13.4), (0.64, 15.2), (0.65, 11.8),
    (0.67, 13.6), (0.69, 10.5), (0.70, 7.4), (0.73, 6.2), (0.74, 5.3), (0.77, 4.3), (0.78, 2.8), (0.81, 4.1),
    (0.83, 1.8), (0.86, 0.2), (0.89, 0.6), (0.93, 17.3), (0.97, 13.2), (1.00, 24.0), (1.01, 13.6), (1.03, 14.9),
    (1.05, 22.7), (1.08, 25.5), (1.09, 17.8), (1.12, 30.2), (1.13, 8.5), (1.16, 16.3), (1.17, 27.1),
    (1.20, 41.5), (1.22, 32.4), (1.24, 30.7), (1.26, 17.5), (1.27, 13.2), (1.30, 15.9), (1.31, 14.2),
    (1.32, 8.7), (1.44, 13.4), (1.45, 16.3), (1.47, 12.2), (1.48, 2.2), (1.50, 0.2), (1.52, 11.6), (1.76, 31.2),
    (1.77, 23.3), (1.84, 42.8), (1.87, 46.7), (1.89, 28.9), (1.87, 20.5), (1.91, 1.9), (1.99, 4.3), (2.04, 4.6),
    (2.11, 16.5), (2.14, 2.9), (2.18, 2.9), (2.32, 0.2), (3.01, 43.4), (3.20, 20.9), (3.30, 28.3), (3.32, 23.8),
    (3.47, 19.2), (3.49, 7.4), (3.76, 17.0), (3.77, 3.6), (3.83, 1.8), (4.11, 20.9), (4.13, 17.4), (4.16, 7.2),
    (4.18, 10.5), (4.19, 19.0), (4.21, 14.9), (4.41, 29.3), (4.44, 38.7), (4.46, 35.6), (4.49, 76.5),
    (4.51, 40.7), (4.56, 3.3), (4.60, 3.7), (4.62, 5.1), (5.51, 36.8), (5.53, 26.5), (5.55, 18.4), (5.92, 4.1),
    (6.22, 45.7), (6.25, 46.1), (6.27, 50.8), (6.29, 48.8), (6.30, 55.8), (6.33, 50.7), (6.50, 45.4),
    (6.53, 35.6), (6.54, 51.9), (6.60, 12.2), (6.62, 2.2), (6.64, 1.5), (6.66, 8.2), (6.67, 20.0), (6.95, 7.8),
    (7.48, 15.5), (7.49, 39.9), (7.50, 54.6), (7.52, 50.0), (7.62, 49.5), (7.70, 0.2), (7.99, 0.2),
    (8.15, 0.2), (8.21, 55.4), (8.23, 36.8), (8.33, 29.5), (8.35, 21.7), (8.40, 21.5), (8.41, 27.7),
    (8.43, 51.7), (8.44, 38.0), (8.46, 25.2), (8.35, 11.5), (8.37, 10.3), (8.52, 2.6), (8.53, 1.0),
    (8.58, 13.8), (8.60, 11.3), (8.61, 21.7), (8.63, 9.1), (9.09, 3.1), (9.25, 2.2), (9.49, 2.2), (9.54, 4.1),
    (9.58, 5.3), (9.62, 5.3), (9.66, 8.7), (9.68, 9.1), (9.72, 20.0), (9.74, 31.6), (9.75, 34.7), (9.77, 24.2),
    (9.78, 22.3), (9.80, 27.9), (9.82, 28.5), (9.84, 40.5), (9.85, 29.6), (9.87, 22.3), (9.89, 22.7),
    (9.98, 4.9), (10.00, 3.6), (10.02, 5.4), (10.05, 5.8), (10.11, 3.6), (10.15, 1.8), (10.19, 0.6),
    (10.23, 1.2), (10.27, 48.1), (10.29, 3.1), (10.31, 6.6), (10.35, 8.0), (10.37, 8.2), (10.41, 2.6),
    (10.44, 1.7), (10.58, 3.1), (10.60, 1.8), (11.15, 2.4),
    (11.30, 6.3), (11.33, 27.5), (11.34, 17.2), (11.36, 55.5), (11.38, 13.6), (11.42, 15.2), (11.44, 12.1),
    (11.46, 20.1), (11.49, 25.2), (11.51, 24.2), (11.52, 38.5), (11.54, 19.3), (11.55, 56.8), (11.59, 87.7),
    (11.61, 57.2), (11.62, 52.3), (11.64, 36.5), (11.68, 88.7), (11.75, 31.4), (11.77, 69.4), (11.80, 64.6),
    (11.84, 47.9), (11.91, 93.4), (11.93, 58.3), (11.95, 63.7), (11.96, 57.2), (11.98, 32.5), (12.00, 22.1),
    (12.02, 31.4), (12.13, 30.7), (12.14, 39.6), (12.16, 69.2), (13.13, 67.6), (13.15, 18.7), (13.12, 22.4),
    (13.17, 85.6), (13.19, 63.1), (13.20, 33.9), (13.22, 41.3), (13.23, 49.6), (13.25, 75.5), (13.32, 60.5),
    (13.33, 35.3), (13.41, 0.6), (13.56, 1.3), (13.62, 1.7), (13.69, 2.3), (13.74, 1.3), (14.04, 0.6),
    (14.25, 65.4), (14.51, 26.8), (14.53, 55.4), (14.55, 47.8), (14.57, 46.9), (14.58, 24.5), (14.60, 54.5),
    (14.62, 80.4), (14.64, 1.8), (14.69, 3.8), (14.72, 5.9), (14.73, 4.9), (14.76, 8.4), (14.83, 16.5),
    (14.85, 2.5), (14.92, 0.6), (14.96, 1.7), (15.00, 3.8), (15.05, 3.4), (15.10, 4.3), (15.14, 12.9),
    (15.16, 4.6), (15.20, 21.4), (15.22, 14.3), (15.25, 5.3), (15.28, 3.2), (15.32, 13.3), (15.35, 14.5),
    (15.37, 11.5), (15.39, 9.1), (15.43, 9.3), (15.46, 7.2), (15.48, 9.6), (15.50, 19.1), (15.53, 33.7),
    (15.56, 42.3), (15.58, 44.8), (15.59, 25.0), (15.61, 25.9), (15.63, 19.6), (15.65, 37.9), (15.67, 94.9),
    (15.68, 27.0), (15.70, 79.0), (15.72, 21.7), (15.74, 36.8), (15.76, 68.1), (15.77, 89.4), (15.79, 24.5),
    (15.81, 23.5), (15.83, 20.1), (15.85, 25.7), (15.86, 13.6), (15.88, 48.9), (15.90, 21.5), (15.93, 40.9),
    (15.95, 79.0), (15.96, 61.7), (15.98, 14.3), (16.00, 41.4), (16.02, 17.5), (16.05, 12.6), (16.06, 10.8),
    (16.08, 16.5), (16.10, 9.1), (16.12, 17.2), (16.14, 40.7), (16.15, 25.9), (16.17, 19.3), (16.19, 14.7),
    (16.21, 17.3), (16.23, 10.1), (16.26, 3.4), (16.30, 5.3), (16.33, 2.0), (16.37, 1.0), (16.41, 11.2),
    (16.43, 6.3), (16.46, 3.4), (16.48, 2.4), (16.51, 1.3), (16.54, 10.5), (16.57, 10.1), (16.59, 7.7),
    (16.62, 21.0), (16.65, 14.3), (16.67, 94.0), (16.69, 32.8), (16.70, 33.3), (16.73, 36.0), (16.75, 55.1),
    (16.78, 58.9), (16.81, 36.8), (16.82, 45.3), (16.84, 46.3), (16.87, 39.2), (16.89, 63.3),
    (17.09, 69.0), (17.11, 53.0), (17.13, 72.3), (17.15, 54.6), (17.17, 77.9), (17.18, 53.3), (17.19, 42.9),
    (17.22, 57.2), (17.24, 30.4), (17.26, 27.7), (17.28, 37.1), (17.29, 71.7), (17.23, 28.1),
    (17.44, 73.5), (17.46, 65.8), (17.50, 49.5), (17.52, 55.7), (17.54, 29.5), (17.56, 25.1), (17.57, 82.7),
    (17.59, 26.7), (17.61, 36.6), (17.65, 29.7), (17.67, 46.6), (17.70, 41.2), (17.72, 43.9), (17.75, 58.8),
    (17.76, 21.7), (17.79, 48.0), (17.82, 24.2), (17.84, 24.2), (17.86, 21.7), (17.87, 25.6), (17.90, 30.0),
    (17.92, 27.8), (17.94, 66.3), (17.96, 19.8), (17.98, 17.3), (18.00, 38.6), (18.02, 13.1), (18.04, 10.7),
    (18.06, 18.4), (18.08, 13.4), (18.11, 24.9), (18.13, 27.4), (18.14, 14.3), (18.17, 21.7), (18.20, 22.4),
    (18.23, 31.6), (18.25, 34.6), (18.27, 43.0), (18.30, 50.6), (18.31, 47.7), (18.33, 40.2), (18.35, 31.9),
    (18.37, 28.1), (18.39, 88.7), (18.41, 57.1), (18.42, 26.9), (18.45, 17.2), (18.47, 12.9), (18.49, 22.9),
    (18.50, 18.6), (18.53, 24.3), (18.55, 15.6), (18.56, 60.8), (18.58, 8.0), (18.60, 7.7), (18.63, 5.9),
    (18.67, 7.7), (18.69, 4.5), (18.71, 3.8), (18.74, 21.6), (18.76, 21.2), (18.78, 13.6), (18.80, 10.5),
    (18.82, 45.1), (18.83, 31.2), (18.86, 27.9), (18.88, 27.5), (18.89, 8.7), (18.92, 24.5), (18.94, 11.5),
    (18.96, 20.0), (18.97, 9.3), (18.99, 11.2), (19.01, 7.3), (19.04, 9.6), (19.06, 32.1), (19.07, 6.3),
    (19.10, 9.8), (19.12, 27.7), (19.15, 8.5), (19.16, 30.0), (19.19, 16.6), (19.21, 13.4), (19.36, 18.4),
    (19.38, 17.3), (19.40, 9.8), (19.42, 5.6), (19.44, 12.1), (19.46, 8.0), (19.48, 4.5), (19.51, 15.5),
    (19.53, 7.0), (19.55, 3.4), (19.57, 6.6), (19.60, 8.0), (19.62, 8.9), (19.64, 11.0), (19.66, 18.9),
    (19.68, 30.3), (19.70, 36.5), (19.72, 23.3), (19.73, 26.5), (19.75, 16.1), (19.77, 17.0), (19.78, 45.7),
    (19.80, 27.1), (19.82, 37.0), (19.86, 37.2), (19.89, 81.2), (19.94, 90.5), (19.99, 80.7), (20.01, 99.5),
    (19.98, 76.5), (20.02, 79.4), (20.06, 83.3), (20.08, 49.2), (20.10, 50.2), (20.11, 46.0), (20.15, 39.5),
    (20.17, 40.5), (20.19, 53.7), (20.20, 86.6), (20.23, 49.2), (20.25, 73.6), (20.27, 93.2), (20.29, 21.7),
    (20.30, 31.9), (20.32, 71.3), (20.35, 86.8), (20.37, 57.4), (20.39, 28.8), (20.41, 54.4), (20.43, 53.0),
    (20.46, 93.5), (20.48, 39.0), (20.50, 82.0), (20.51, 18.9), (20.53, 54.4), (20.55, 99.5), (20.56, 23.3),
    (20.57, 75.7), (20.59, 63.4), (20.61, 53.9), (20.63, 61.0), (20.66, 66.7), (20.68, 38.5), (20.70, 52.5),
    (20.73, 39.7), (20.75, 56.7), (20.77, 44.8), (20.79, 82.1), (20.82, 55.5), (20.84, 44.7), (20.86, 97.5),
    (20.89, 29.7), (20.91, 29.1), (20.95, 60.2), (20.97, 31.2), (21.00, 37.9), (21.02, 47.3), (21.04, 67.4),
    (21.05, 84.4), (21.06, 89.6), (21.09, 64.1), (21.11, 72.5), (21.13, 37.0), (21.15, 33.3), (21.18, 53.7),
    (21.20, 74.0), (21.22, 26.3), (21.24, 51.6), (21.27, 25.2), (21.29, 24.5), (21.31, 20.3), (21.33, 12.6),
    (21.36, 61.0), (21.38, 28.1), (21.40, 42.0), (21.42, 20.3), (21.44, 17.5), (21.46, 21.7), (21.48, 24.1),
    (21.50, 30.2), (21.54, 72.2), (21.56, 29.7), (21.58, 32.6), (21.61, 67.4), (21.62, 28.8), (21.65, 42.1),
    (21.70, 57.9), (21.72, 48.3), (21.74, 56.5), (21.77, 33.7), (21.80, 80.7), (21.81, 41.1), (21.83, 39.7),
    (21.86, 39.8), (21.88, 65.5), (21.90, 37.1), (21.92, 56.5), (21.95, 66.7), (21.97, 51.8), (21.99, 52.0),
    (22.01, 89.2), (22.03, 77.4), (22.06, 37.0), (22.08, 98.7), (22.10, 65.5), (22.15, 53.6), (22.17, 45.9),
    (22.19, 63.9), (22.21, 95.9), (22.24, 57.2), (22.27, 33.7), (22.28, 41.4), (22.31, 44.7), (22.34, 32.5),
    (22.36, 37.7), (22.37, 47.0), (22.39, 40.4), (22.42, 46.3), (22.44, 56.5), (22.45, 27.0), (22.48, 33.7),
    (22.51, 44.9), (22.54, 47.0), (22.55, 41.4), (22.57, 33.7), (22.60, 37.9), (22.63, 41.1), (22.65, 81.0),
    (22.66, 76.2), (22.68, 33.7), (22.70, 77.3), (22.72, 51.1), (22.74, 57.8), (22.76, 93.7), (22.78, 71.2),
    (22.80, 64.4), (22.82, 57.6), (22.84, 84.0), (22.87, 75.4), (22.89, 98.4), (22.91, 94.4), (22.94, 78.3),
    (22.96, 91.4), (22.99, 84.7), (23.01, 96.1), (23.03, 82.9), (23.05, 84.7), (23.08, 88.4), (23.10, 80.5),
    (23.12, 69.6), (23.14, 61.7), (23.17, 73.6), (23.19, 39.3), (23.20, 31.2), (23.22, 26.7), (23.24, 28.4),
    (23.26, 21.2), (23.28, 39.3), (23.30, 39.3), (23.32, 80.0), (23.34, 73.4), (23.36, 71.0), (23.39, 44.9),
    (23.41, 43.7), (23.43, 45.4), (23.46, 41.4), (23.48, 46.7), (23.50, 40.4), (23.52, 82.6), (23.55, 34.6),
    (23.57, 31.6), (23.59, 38.3), (23.62, 22.6), (23.64, 88.0), (23.66, 16.3), (23.68, 32.3), (23.70, 55.5),
    (23.72, 73.4), (23.73, 99.5), (23.76, 73.5), (23.78, 68.8), (23.80, 97.5), (23.82, 68.8), (23.85, 21.9),
    (23.86, 22.6), (23.88, 34.9), (23.91, 67.1), (23.93, 25.2), (23.95, 42.6), (23.97, 71.4), (23.98, 35.4),
    (24.00, 48.5),
]
od_z_x = [(0.75, 2.8), (0.78, 3.1), (4.29, 1.5), (4.52, 1.8), (8.54, 15.2), (8.56, 5.3), (8.98, 11.8),
          (8.96, 7.0), (8.94, 5.3), (8.94, 3.1), (14.45, 9.1), (14.44, 5.2), (15.07, 29.1), (19.30, 56.7),
          (19.35, 51.3), (19.27, 48.0), (19.27, 45.6), (19.30, 44.4), (19.24, 38.1), (19.11, 19.1),
          (19.48, 27.4)]
od_z_zero = [(7.06, 7.37), (8.64, 9.05), (9.1, 9.45), (10.45, 10.55), (10.65, 11.12), (13.38, 13.5),
             (13.55, 13.65), (13.85, 14.06)]
od_d98_zero = [(0.0, 0.3), (0.45, 0.52), (1.34, 1.4), (1.6, 1.75), (1.93, 2.0), (2.21, 2.35), (3.2, 3.22),
               (3.8, 4.0), (4.9, 5.0), (5.45, 5.5)]
od_band_d98 = [(0.0, 0.3, 0, 8), (0.55, 0.7, 2, 16), (1.05, 1.3, 2, 20), (1.75, 1.9, 5, 20),
               (2.6, 2.64, 17, 24), (3.02, 3.08, 10, 26), (3.22, 3.3, 10, 30), (3.42, 3.5, 12, 30),
               (4.12, 4.22, 5, 33), (4.44, 4.55, 5, 28), (5.47, 5.66, 1, 14), (6.25, 6.55, 18, 44),
               (7.06, 7.12, 12, 38), (7.28, 7.45, 20, 100), (21.2, 21.6, 33, 78), (21.6, 22.0, 32, 68),
               (22.0, 22.4, 36, 52), (22.4, 23.0, 36, 51), (23.0, 23.4, 34, 52), (23.4, 23.8, 36, 64),
               (23.8, 24.0, 28, 44)]
od_band_z = [(0.22, 0.24, 3, 70), (0.31, 0.33, 5, 60), (0.56, 0.58, 2, 55), (0.66, 0.68, 5, 45),
             (1.0, 1.02, 5, 60), (1.12, 1.14, 8, 58), (1.2, 1.22, 10, 60), (1.46, 1.48, 0, 50), (1.83, 1.88, 0, 53),
             (2.6, 2.62, 60, 100), (3.0, 3.02, 30, 56), (3.22, 3.24, 20, 100), (4.12, 4.18, 3, 33),
             (4.47, 4.5, 0, 100), (5.5, 5.53, 10, 60), (6.22, 6.32, 30, 100), (6.5, 6.54, 20, 100),
             (6.62, 6.65, 0, 30), (7.46, 7.5, 10, 100), (8.2, 8.23, 20, 100), (8.35, 8.44, 5, 100),
             (8.55, 8.6, 0, 100), (8.92, 9.0, 0, 100), (9.53, 9.7, 2, 100), (9.72, 9.88, 15, 100),
             (10.26, 10.35, 2, 100), (10.53, 10.6, 0.5, 100), (11.3, 11.45, 12, 100), (11.53, 11.7, 17, 100),
             (11.75, 12.07, 18, 100), (12.16, 12.2, 30, 100), (13.13, 13.26, 11, 100), (13.31, 13.34, 30, 100),
             (14.46, 14.5, 1, 100), (14.78, 14.83, 10, 100), (14.92, 15.21, 0, 100), (15.28, 15.67, 5, 100),
             (15.68, 16.14, 8, 100), (16.18, 16.27, 2, 100), (16.45, 16.67, 1, 100), (16.7, 16.95, 22, 100),
             (17.0, 17.36, 25, 100), (17.45, 18.0, 12, 100), (18.0, 18.67, 5, 100), (18.71, 18.83, 8, 100),
             (18.85, 19.33, 3, 100), (19.37, 19.84, 2, 100), (19.86, 20.2, 28, 100), (20.25, 20.47, 15, 100),
             (20.49, 20.7, 15, 100), (20.84, 21.2, 15, 100), (21.25, 21.7, 12, 100), (21.72, 22.5, 25, 100),
             (22.5, 23.0, 30, 100), (23.0, 23.5, 18, 100), (23.5, 24.0, 15, 100)]


def runs_to_hours(runs, step=0.02):
    parts = []
    for a, b in runs:
        n = int(round((b - a) / step)) + 1
        parts.append(np.linspace(a, b, n))
    return np.concatenate(parts)


def cols(pts):
    arr = np.array(pts, dtype=float)
    return arr[:, 0], arr[:, 1]


def draw_bands(ax, bands, color, alpha):
    for t0, t1, lo, hi in bands:
        ax.fill_between([t0, t1], [lo, lo], [hi, hi], color=color, alpha=alpha, lw=0)


def style_axes(ax, ylim, yticks):
    ax.set_xlim(0, 24)
    ax.set_ylim(*ylim)
    ax.set_xticks([0, 5, 10, 15, 20])
    ax.set_yticks(yticks)
    ax.yaxis.set_major_formatter(FuncFormatter(lambda v, p: f'{v:g}'))
    ax.spines['top'].set_visible(False)
    ax.spines['left'].set_color(AX_BLUE)
    ax.spines['right'].set_color(AX_BLUE)
    ax.spines['left'].set_linewidth(1.0)
    ax.spines['right'].set_linewidth(1.0)
    ax.spines['bottom'].set_color(DARK)
    ax.spines['bottom'].set_linewidth(1.4)
    ax.tick_params(axis='y', colors=AX_BLUE, direction='in', length=13, width=1.0, labelsize=18.4, pad=13,
                   right=False)
    ax.tick_params(axis='x', colors=DARK, direction='in', length=13, width=1.0, labelsize=18.4, pad=15,
                   top=False)
    ax.set_xlabel('UTC hours on 20240905', fontsize=22, color=DARK, labelpad=12)


def marker_legend(ax, labels, x_marker, y_center):
    handles = [Line2D([], [], ls='none', marker='x', ms=10, mew=4.0, color=ORANGE),
               Line2D([], [], ls='none', marker='x', ms=10, mew=4.0, color=BLUE)]
    ax.legend(handles, labels, loc='center left', bbox_to_anchor=(x_marker - 0.0143, y_center),
              frameon=False, fontsize=18, handlelength=2.0, handletextpad=2.8, labelspacing=0.4,
              borderpad=0, borderaxespad=0)


fig = plt.figure(figsize=(25.5, 40), dpi=150)
left, width = 0.09804, 0.68706
ax1 = fig.add_axes([left, 0.7995, width, 0.15083])
ax2 = fig.add_axes([left, 0.6120, width, 0.15120])
ax3 = fig.add_axes([left, 0.4245, width, 0.15120])
ax4 = fig.add_axes([left, 0.2372, width, 0.15093])
ax5 = fig.add_axes([left, 0.04957, width, 0.15110])

# panel 1
zlwp_flags = [(0.2, zlwp_flag_0), (1.2, zlwp_flag_1), (4.2, zlwp_flag_4), (5.2, zlwp_flag_5),
              (6.2, zlwp_flag_6), (8.2, zlwp_flag_8), (9.2, zlwp_flag_9), (10.2, zlwp_flag_10)]
d98_flags = [(0, d98_flag_0), (1, d98_flag_1), (2, d98_flag_2), (3, d98_flag_3), (4, d98_flag_4),
             (6, d98_flag_6), (9, d98_flag_9), (10, d98_flag_10)]
for level, runs in zlwp_flags:
    t = runs_to_hours(runs)
    ax1.plot(t, np.full_like(t, level), 'o', ms=5.0, mew=0, color=BLUE, clip_on=False)
for level, runs in d98_flags:
    t = runs_to_hours(runs)
    ax1.plot(t, np.full_like(t, level), 'o', ms=5.0, mew=0, color=ORANGE, clip_on=False)
style_axes(ax1, (-0.5, 11.5), [0, 2, 4, 6, 8, 10])

# panel 2
lt, lv = cols(lwp_pts)
for t, lo, hi in mwr_spikes:
    ax2.plot([t, t], [lo, hi], color=MWR_TRACE, lw=1.3)
ax2.plot(lt, lv, color=ORANGE, lw=6.2, solid_joinstyle='round', solid_capstyle='round')
ax2.plot(lt, lv, color=BLUE, lw=5.4, dashes=(7.4, 3.9))
xt, xv = cols(lwp_z_x)
ax2.plot(xt, xv, 'x', ms=13, mew=5.0, color=BLUE)
style_axes(ax2, (-0.1, 4.37), [0, 0.5, 1, 1.5, 2, 2.5, 3, 3.5, 4])
ax2.set_ylabel('log10 Liquid Water Path, log10(g/m$^2$)', fontsize=22, color=AX_BLUE, labelpad=12)
lwp_handles = [Line2D([], [], color=MWR_LEGEND, lw=4.5),
               Line2D([], [], color=ORANGE, lw=4.5),
               Line2D([], [], color=BLUE, lw=4.5, dashes=(8.3, 5.0))]
ax2.legend(lwp_handles, ['MWR Phy Iter', 'D98 LWP', 'Z-LWP LWP'], loc='center left',
           bbox_to_anchor=(0.735, 0.172), frameon=False, fontsize=18, handlelength=6.27,
           handletextpad=0.67, labelspacing=0.4, borderpad=0, borderaxespad=0)


def scatter_panel(ax, band_z, band_d, d_pts, z_pts, d_x, z_x, d_zero=None, z_zero=None, zero_val=0.0):
    draw_bands(ax, band_z, BLUE, 0.2)
    draw_bands(ax, band_d, ORANGE, 0.15)
    if d_zero:
        t = runs_to_hours(d_zero)
        ax.plot(t, np.full_like(t, zero_val), 'o', ms=5.2, mew=0, color=ORANGE, clip_on=False)
    if z_zero:
        t = runs_to_hours(z_zero)
        ax.plot(t, np.full_like(t, zero_val), 'o', ms=5.2, mew=0, color=BLUE, clip_on=False)
    t, v = cols(d_pts)
    ax.plot(t, v, 'o', ms=5.2, mew=0, color=ORANGE, clip_on=False)
    t, v = cols(z_pts)
    ax.plot(t, v, 'o', ms=5.2, mew=0, color=BLUE, clip_on=False)
    t, v = cols(d_x)
    ax.plot(t, v, 'x', ms=13, mew=5.0, color=ORANGE, clip_on=False)
    t, v = cols(z_x)
    ax.plot(t, v, 'x', ms=13, mew=5.0, color=BLUE, clip_on=False)


# panel 3
scatter_panel(ax3, re_band_z, re_band_d98, re_d98_pts, re_z_pts, re_d98_x, re_z_x)
style_axes(ax3, (0, 25), [0, 5, 10, 15, 20, 25])
ax3.set_ylabel('Effective Radius,$\\mu$m', fontsize=22, color=AX_BLUE, labelpad=14)
marker_legend(ax3, ['D98 Re', 'Z-LWP'], 0.8417, 0.30)

# panel 4
scatter_panel(ax4, nd_band_z, nd_band_d98, nd_d98_pts, nd_z_pts, nd_d98_x, nd_z_x,
              d_zero=nd_d98_zero, z_zero=nd_z_zero, zero_val=0.5)
style_axes(ax4, (0, 500), [0, 100, 200, 300, 400, 500])
ax4.set_ylabel('Droplet Concentration, #/cc', fontsize=22, color=AX_BLUE, labelpad=13)
marker_legend(ax4, ['D98 Nd', 'Z-LWP Nd'], 0.8329, 0.698)

# panel 5
scatter_panel(ax5, od_band_z, od_band_d98, od_d98_pts, od_z_pts, od_d98_x, od_z_x,
              d_zero=od_d98_zero, z_zero=od_z_zero, zero_val=0.2)
style_axes(ax5, (0, 100), [0, 20, 40, 60, 80, 100])
ax5.set_ylabel('Optical Depth', fontsize=22, color=AX_BLUE, labelpad=14)
marker_legend(ax5, ['D98 OD', 'Z-LWP Nd'], 0.0829, 0.897)

# panel 1 ylabel in three colours, stacked bottom to top
label_parts = [('DQ Flag', AX_BLUE), ('D98 &', ORANGE), ('Z-LWP', BLUE)]
label_texts = [fig.text(242 / 3825, 0.5, s, rotation=90, ha='center', va='bottom', fontsize=22, color=c)
               for s, c in label_parts]
fig.canvas.draw()
renderer = fig.canvas.get_renderer()
gap = 36 / fig.bbox.height
lengths = [t.get_window_extent(renderer).height / fig.bbox.height for t in label_texts]
y = 0.87492 - (sum(lengths) + gap * (len(lengths) - 1)) / 2
for t, l in zip(label_texts, lengths):
    t.set_y(y)
    y += l + gap

fig.savefig('out.png', dpi=150)
